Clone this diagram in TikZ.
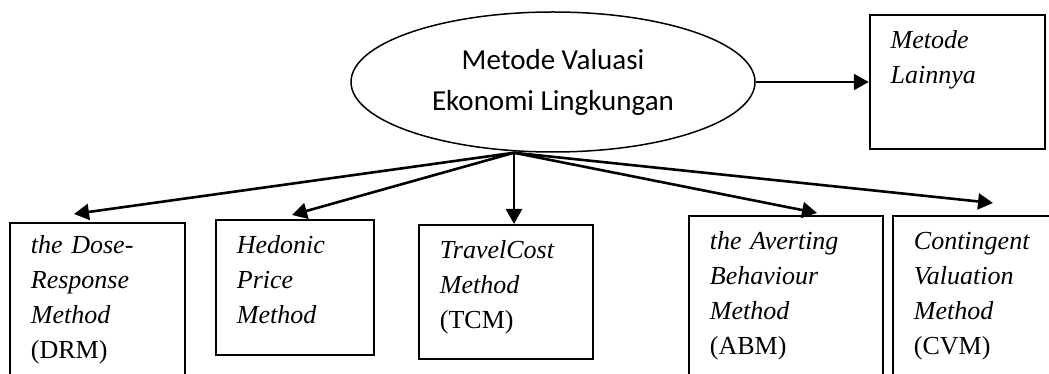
\documentclass[tikz,border=0pt]{standalone}
\usepackage{fontspec}
\setmainfont{Liberation Serif}
\newfontfamily\calibri{Carlito}
\usetikzlibrary{arrows.meta,positioning,shapes.geometric}
\tikzset{
  metbox/.style={draw, line width=1.8pt, anchor=north west, align=left,
    inner xsep=21pt, inner ysep=0pt, text height=34pt,
    font=\fontsize{26}{35}\selectfont\itshape},
  arr/.style={->, line width=2.6pt}
}

\begin{document}
\begin{tikzpicture}[x=1pt, y=1pt, >={Triangle[length=15pt,width=16pt]}]
  \useasboundingbox (0,0) rectangle (1049,374);
  \clip (0,0) rectangle (1049,374);

  \node[draw, ellipse, line width=1.5pt, inner sep=0pt, minimum width=404pt, minimum height=140pt,
    font=\calibri\fontsize{29}{41}\selectfont, align=center] (ell) at (553,292) {Metode Valuasi\\Ekonomi Lingkungan};
  \node[metbox, right=113pt of ell, text width=133pt, text depth=100pt] (lain) {Metode\\Lainnya};

  \node[metbox, text height=31pt, text width=133pt, text depth=150pt] (drm) at (9,152) {the Dose-\\Response\\Method\\\textup{(DRM)}};
  \node[metbox, text width=116pt, text depth=101pt] (hpm) at (215,155) {Hedonic\\Price\\Method};
  \node[metbox, text width=132pt, text depth=100pt] (tcm) at (418,150) {TravelCost\\Method\\\textup{(TCM)}};
  \node[metbox, text width=152pt, text depth=150pt] (abm) at (688,159) {the Averting\\Behaviour\\Method\\\textup{(ABM)}};
  \node[metbox, text width=140pt, text depth=150pt] (cvm) at (892,159) {Contingent\\Valuation\\Method\\\textup{(CVM)}};

  \coordinate (hub) at ([xshift=-39pt]ell.south);
  \draw[arr] (hub) -- ([shift={(65pt,8pt)}]drm.north west);
  \draw[arr] (hub) -- ([shift={(77pt,4pt)}]hpm.north west);
  \draw[arr] (hub) -- (hub |- tcm.north);
  \draw[arr] (hub) -- ([shift={(129pt,2pt)}]abm.north west);
  \draw[arr] (hub) -- ([shift={(101pt,12pt)}]cvm.north west);
  \draw[arr] (ell.east) -- (lain.west);
\end{tikzpicture}
\end{document}
